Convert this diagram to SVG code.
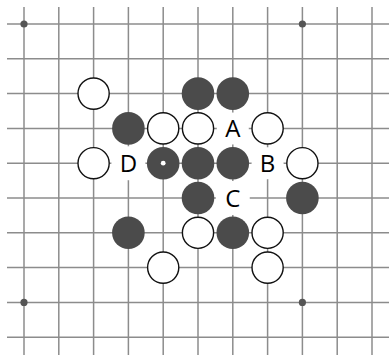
<svg xmlns="http://www.w3.org/2000/svg" width="389" height="355" viewBox="0 0 389 355">
<style>
.g line{stroke:#8c8c8c;stroke-width:1.5}
.star{fill:#555}
.b{fill:#4b4b4b}
.w{fill:#fff;stroke:#111;stroke-width:1.4}
.bg{fill:#fff}
.lbl{font-family:"Open Sans","DejaVu Sans",sans-serif;font-size:24px;fill:#000;text-anchor:middle}
</style>
<rect width="389" height="355" fill="#fff"/>
<g id="grid" class="g">
<line x1="24" y1="7" x2="24" y2="355"/>
<line x1="58.8" y1="7" x2="58.8" y2="355"/>
<line x1="93.6" y1="7" x2="93.6" y2="355"/>
<line x1="128.4" y1="7" x2="128.4" y2="355"/>
<line x1="163.2" y1="7" x2="163.2" y2="355"/>
<line x1="198" y1="7" x2="198" y2="355"/>
<line x1="232.8" y1="7" x2="232.8" y2="355"/>
<line x1="267.6" y1="7" x2="267.6" y2="355"/>
<line x1="302.4" y1="7" x2="302.4" y2="355"/>
<line x1="337.2" y1="7" x2="337.2" y2="355"/>
<line x1="372" y1="7" x2="372" y2="355"/>
<line x1="7" y1="24" x2="389" y2="24"/>
<line x1="7" y1="58.8" x2="389" y2="58.8"/>
<line x1="7" y1="93.6" x2="389" y2="93.6"/>
<line x1="7" y1="128.4" x2="389" y2="128.4"/>
<line x1="7" y1="163.2" x2="389" y2="163.2"/>
<line x1="7" y1="198" x2="389" y2="198"/>
<line x1="7" y1="232.8" x2="389" y2="232.8"/>
<line x1="7" y1="267.6" x2="389" y2="267.6"/>
<line x1="7" y1="302.4" x2="389" y2="302.4"/>
<line x1="7" y1="337.2" x2="389" y2="337.2"/>
</g>
<g id="stars" class="star">
<circle cx="24" cy="24" r="3.6"/>
<circle cx="302.4" cy="24" r="3.6"/>
<circle cx="24" cy="302.4" r="3.6"/>
<circle cx="302.4" cy="302.4" r="3.6"/>
</g>
<g id="stones">
<circle class="w" cx="93.6" cy="93.6" r="15.6"/>
<circle class="b" cx="198" cy="93.6" r="16.3"/>
<circle class="b" cx="232.8" cy="93.6" r="16.3"/>
<circle class="b" cx="128.4" cy="128.4" r="16.3"/>
<circle class="w" cx="163.2" cy="128.4" r="15.6"/>
<circle class="w" cx="198" cy="128.4" r="15.6"/>
<circle class="w" cx="267.6" cy="128.4" r="15.6"/>
<circle class="w" cx="93.6" cy="163.2" r="15.6"/>
<g id="last-move">
<circle class="b" cx="163.2" cy="163.2" r="16.3"/>
<circle fill="#fff" cx="163.2" cy="163.2" r="2.4"/>
</g>
<circle class="b" cx="198" cy="163.2" r="16.3"/>
<circle class="b" cx="232.8" cy="163.2" r="16.3"/>
<circle class="w" cx="302.4" cy="163.2" r="15.6"/>
<circle class="b" cx="198" cy="198" r="16.3"/>
<circle class="b" cx="302.4" cy="198" r="16.3"/>
<circle class="b" cx="128.4" cy="232.8" r="16.3"/>
<circle class="w" cx="198" cy="232.8" r="15.6"/>
<circle class="b" cx="232.8" cy="232.8" r="16.3"/>
<circle class="w" cx="267.6" cy="232.8" r="15.6"/>
<circle class="w" cx="163.2" cy="267.6" r="15.6"/>
<circle class="w" cx="267.6" cy="267.6" r="15.6"/>
</g>
<g id="label-A"><circle class="bg" cx="232.8" cy="128.4" r="16"/><text class="lbl" x="232.8" y="137">A</text></g>
<g id="label-B"><circle class="bg" cx="267.6" cy="163.2" r="16"/><text class="lbl" x="267.6" y="171.8">B</text></g>
<g id="label-C"><circle class="bg" cx="232.8" cy="198" r="17"/><text class="lbl" x="232.8" y="206.6">C</text></g>
<g id="label-D"><circle class="bg" cx="128.4" cy="163.2" r="17"/><text class="lbl" x="128.4" y="171.8">D</text></g>
</svg>
